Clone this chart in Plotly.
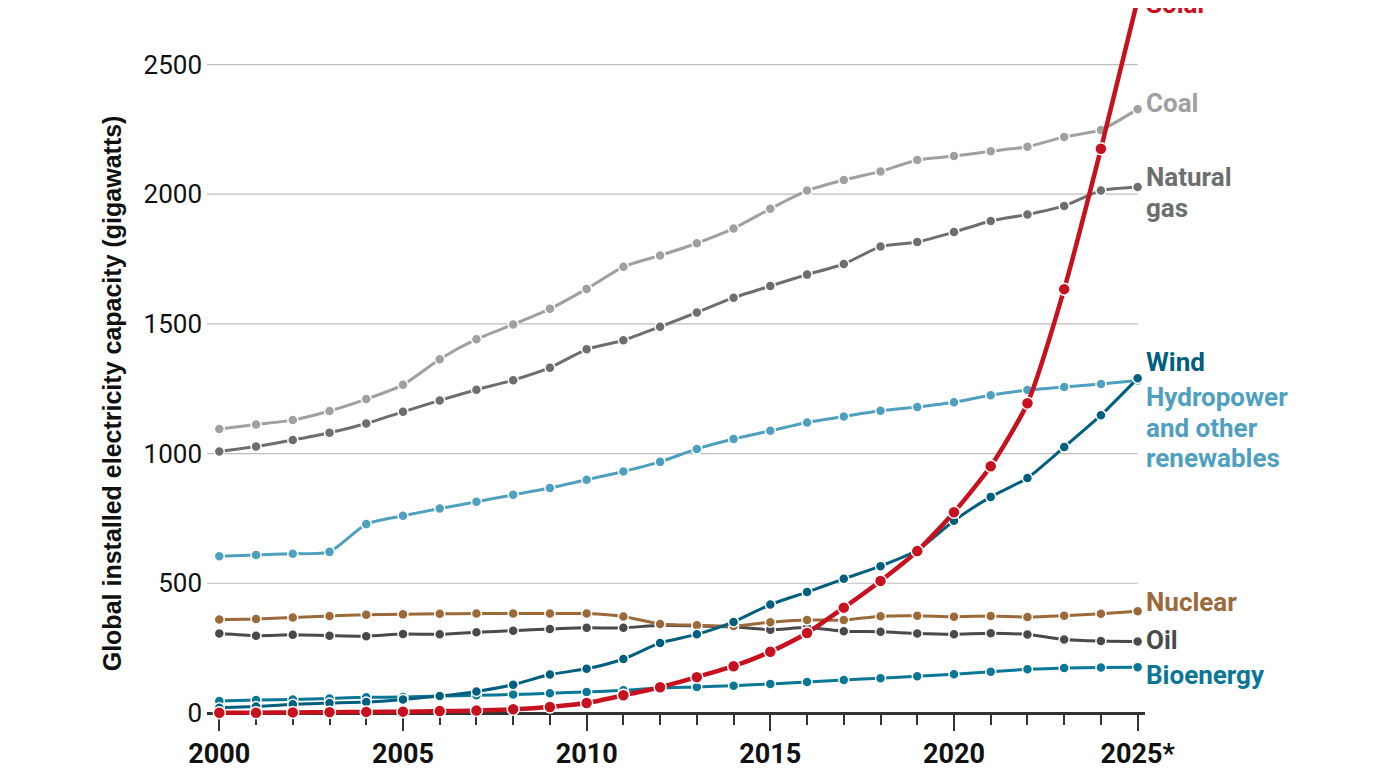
import plotly.graph_objects as go

years = list(range(2000, 2026))

solar = [1, 1, 2, 3, 4, 5, 7, 9, 14, 23, 38, 68, 99, 138, 180, 236, 308, 406, 509, 624, 774, 951, 1194, 1634, 2175, 2750]
coal = [1095, 1112, 1129, 1164, 1210, 1265, 1364, 1441, 1498, 1558, 1635, 1720, 1764, 1811, 1868, 1944, 2014, 2055, 2088, 2132, 2147, 2166, 2183, 2221, 2248, 2328]
gas = [1008, 1027, 1052, 1080, 1116, 1161, 1205, 1246, 1283, 1331, 1402, 1437, 1489, 1544, 1601, 1646, 1690, 1731, 1798, 1816, 1854, 1897, 1922, 1955, 2014, 2028]
hydro = [604, 609, 614, 621, 728, 760, 788, 814, 841, 867, 899, 931, 968, 1018, 1056, 1088, 1120, 1143, 1165, 1180, 1198, 1225, 1245, 1257, 1268, 1282]
wind = [20, 25, 33, 38, 42, 52, 65, 83, 109, 148, 170, 208, 270, 303, 351, 418, 466, 517, 566, 627, 741, 833, 906, 1025, 1148, 1290]
bio = [46, 50, 52, 56, 60, 61, 65, 68, 71, 76, 81, 87, 96, 100, 105, 112, 119, 127, 134, 141, 149, 159, 168, 173, 175, 176]
nuclear = [360, 362, 368, 374, 379, 380, 382, 383, 383, 383, 383, 372, 343, 338, 335, 350, 358, 358, 373, 375, 371, 374, 370, 375, 382, 392]
oil = [306, 298, 301, 298, 296, 304, 303, 311, 317, 324, 328, 328, 338, 335, 332, 321, 329, 315, 313, 306, 303, 307, 302, 283, 277, 275]

series_names = ["Coal", "Natural gas", "Hydropower and other renewables", "Bioenergy", "Oil", "Nuclear", "Wind", "Solar"]
series_values = [coal, gas, hydro, bio, oil, nuclear, wind, solar]
series_colors = ["#a0a0a3", "#6d6e70", "#4fa0bf", "#0a7796", "#4a4a4c", "#9c6a3a", "#005f7f", "#c8111f"]

# end labels: one entry per text line (series index, text, vertical position in paper units)
label_lines = [
    (0, "Coal", 0.8656),
    (1, "Natural", 0.7608), (1, "gas", 0.7170),
    (2, "Hydropower", 0.4495), (2, "and other", 0.4056), (2, "renewables", 0.3631),
    (3, "Bioenergy", 0.0560),
    (4, "Oil", 0.1056),
    (5, "Nuclear", 0.1594),
    (6, "Wind", 0.4990),
    (7, "Solar", 1.0057),
]

y_ticks = [0, 500, 1000, 1500, 2000, 2500]
x_ticks = [2000, 2005, 2010, 2015, 2020, 2025]
x_ticktext = ["2000", "2005", "2010", "2015", "2020", "2025*"]

FONT = "Roboto"

fig = go.Figure()

for name, vals, col in zip(series_names, series_values, series_colors):
    is_solar = name == "Solar"
    fig.add_trace(go.Scatter(
        x=years, y=vals, name=name, mode="lines+markers",
        line=dict(color=col, width=4.5 if is_solar else 3, shape="spline", smoothing=0.6),
        marker=dict(size=12 if is_solar else 10, color=col, line=dict(color="white", width=1.5)),
        cliponaxis=False, showlegend=False,
    ))

X0, X1 = 1999.665, 2025.2
Y0, Y1 = -8, 2718

shapes = []
for t in y_ticks[1:]:
    shapes.append(dict(type="line", xref="x", yref="y", x0=X0, x1=2025.0, y0=t, y1=t,
                       line=dict(color="#bdbdbd", width=1.2), layer="below"))

annotations = []
for idx, txt, yy in label_lines:
    annotations.append(dict(x=0.9989, y=yy, xref="paper", yref="paper", text="<b>%s</b>" % txt,
                            showarrow=False, xanchor="left", yanchor="middle", align="left",
                            font=dict(family=FONT, size=26, color=series_colors[idx])))

annotations.append(dict(x=-0.1013, y=0.455, xref="paper", yref="paper",
                        text="<b>Global installed electricity capacity (gigawatts)</b>",
                        textangle=-90, showarrow=False, xanchor="center", yanchor="middle",
                        font=dict(family="Liberation Sans", size=25, color="#111111")))

fig.update_layout(
    width=1400, height=782,
    margin=dict(l=199, r=263, t=0, b=75.4, pad=0),
    paper_bgcolor="white", plot_bgcolor="white",
    font=dict(family=FONT, color="#111111"),
    shapes=shapes, annotations=annotations,
    xaxis=dict(range=[X0, X1], tickvals=x_ticks, ticktext=x_ticktext,
               ticks="outside", ticklen=16, tickwidth=2, tickcolor="#333333",
               minor=dict(dtick=1, tick0=2000, ticks="outside", ticklen=10, tickwidth=1.5, tickcolor="#333333"),
               showline=True, linecolor="#333333", linewidth=3, showgrid=False, zeroline=False,
               anchor="free", position=8 / 2726, layer="below traces",
               tickfont=dict(family=FONT, size=27, color="#111111", weight="bold")),
    yaxis=dict(range=[Y0, Y1], tickvals=y_ticks, showgrid=False, zeroline=False, showline=False,
               ticks="", tickfont=dict(family=FONT, size=26, color="#111111"), ticklabelstandoff=4),
)

fig.write_html("out.html")
